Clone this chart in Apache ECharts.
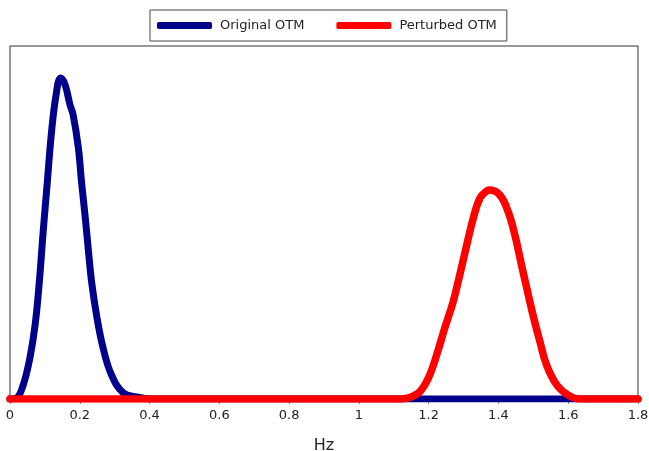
<!DOCTYPE html>
<html>
<head>
<meta charset="utf-8">
<script src="https://cdn.jsdelivr.net/npm/echarts@6/dist/echarts.min.js"></script>
<style>html,body{margin:0;padding:0;background:#fff;}#c{width:649px;height:451px;}</style>
</head>
<body>
<div id="c"></div>
<script>
const seriesNames = ['Original OTM', 'Perturbed OTM'];
const xTicks = [0, 0.2, 0.4, 0.6, 0.8, 1, 1.2, 1.4, 1.6, 1.8];
const originalHz = [0, 0.019, 0.038, 0.057, 0.072, 0.084, 0.095, 0.107, 0.119, 0.132, 0.145, 0.158, 0.172, 0.181, 0.196, 0.205, 0.215, 0.224, 0.234, 0.248, 0.267, 0.291, 0.325, 0.363, 0.401, 0.45, 1.8];
const originalAmp = [0, 0.003, 0.040, 0.116, 0.210, 0.331, 0.473, 0.615, 0.756, 0.861, 0.909, 0.890, 0.833, 0.805, 0.711, 0.615, 0.521, 0.428, 0.331, 0.238, 0.144, 0.068, 0.017, 0.006, 0, 0, 0];
const perturbedHz = [0, 1.08, 1.12, 1.146, 1.175, 1.199, 1.223, 1.246, 1.270, 1.289, 1.309, 1.328, 1.347, 1.366, 1.375, 1.404, 1.428, 1.447, 1.466, 1.481, 1.499, 1.519, 1.538, 1.567, 1.600, 1.633, 1.67, 1.8];
const perturbedAmp = [0, 0, 0, 0.004, 0.021, 0.059, 0.125, 0.201, 0.275, 0.351, 0.436, 0.513, 0.569, 0.589, 0.592, 0.578, 0.530, 0.465, 0.380, 0.315, 0.238, 0.162, 0.096, 0.040, 0.011, 0, 0, 0];

const pairs = (xs, ys) => xs.map((x, i) => [x, ys[i]]);
const chart = echarts.init(document.getElementById('c'), null, {renderer: 'canvas'});
chart.setOption({
  animation: false,
  backgroundColor: '#fff',
  textStyle: {fontFamily: 'DejaVu Sans'},
  legend: {
    data: seriesNames,
    left: 150, top: 10,
    padding: [9, 10, 9, 7],
    borderColor: '#444', borderWidth: 1,
    icon: 'roundRect',
    itemWidth: 55, itemHeight: 7,
    itemGap: 32,
    textStyle: {fontSize: 13, color: '#222', fontFamily: 'DejaVu Sans', padding: [0, 0, 0, 3]}
  },
  grid: {left: 10, right: 11, top: 46, bottom: 52, show: true, borderColor: '#333', borderWidth: 1, containLabel: false, outerBoundsMode: 'none'},
  xAxis: {
    type: 'value', min: 0, max: 1.8, interval: 0.2,
    name: 'Hz', nameLocation: 'middle', nameGap: 39,
    nameTextStyle: {fontSize: 16, color: '#222', fontFamily: 'DejaVu Sans'},
    axisLine: {show: true, lineStyle: {color: '#333'}},
    axisTick: {show: true, inside: false, length: 5, lineStyle: {color: '#888'}},
    axisLabel: {fontSize: 13, color: '#222', margin: 10, formatter: v => String(+v.toFixed(1))},
    splitLine: {show: false}
  },
  yAxis: {type: 'value', min: 0, max: 1, show: false, splitLine: {show: false}},
  series: [
    {name: seriesNames[0], type: 'line', data: pairs(originalHz, originalAmp), smooth: 0.4, showSymbol: false, symbol: 'none', color: '#00008b', lineStyle: {width: 7, color: '#00008b', cap: 'round', join: 'round'}, z: 2},
    {name: seriesNames[1], type: 'line', data: pairs(perturbedHz, perturbedAmp), smooth: 0.4, showSymbol: false, symbol: 'none', color: '#ff0000', lineStyle: {width: 7.5, color: '#ff0000', cap: 'round', join: 'round'}, z: 3}
  ]
});
</script>
</body>
</html>
